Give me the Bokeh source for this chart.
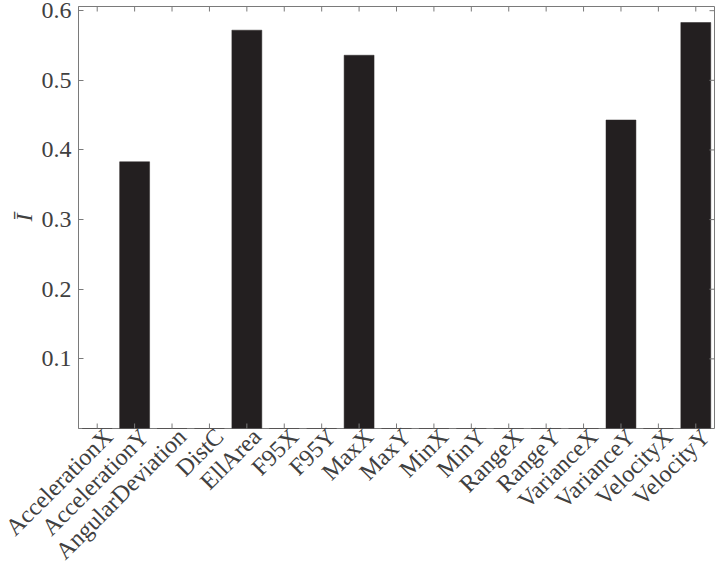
from math import pi
from bokeh.plotting import figure
from bokeh.models import Range1d, FixedTicker, ColumnDataSource, LinearAxis
from bokeh.embed import file_html
from bokeh.resources import INLINE

categories = ["AccelerationX", "AccelerationY", "AngularDeviation", "DistC", "EllArea",
              "F95X", "F95Y", "MaxX", "MaxY", "MinX", "MinY", "RangeX", "RangeY",
              "VarianceX", "VarianceY", "VelocityX", "VelocityY"]
values = [0.0, 0.383, 0.0, 0.0, 0.572, 0.0, 0.0, 0.536, 0.0, 0.0, 0.0, 0.0, 0.0,
          0.0, 0.443, 0.0, 0.583]
y_ticks = [0.1, 0.2, 0.3, 0.4, 0.5, 0.6]
y_min = 0.0
y_max = 0.606

FONT = "Liberation Serif"
AX = "#7a7a7a"
TXT = "#404040"
LABEL_SHIFT = 0.27  # category units: rotated labels sit a little right of their tick

n = len(categories)
idx = list(range(n))
x_lo, x_hi = -0.5, n - 0.5
src = ColumnDataSource(dict(x=idx, cat=categories, val=values,
                            base=[y_min] * n, top=[y_max] * n))

p = figure(width=716, height=576, x_range=Range1d(x_lo, x_hi), y_range=Range1d(y_min, y_max),
           output_backend="svg", toolbar_location=None,
           min_border_left=78, min_border_right=2, min_border_top=6, min_border_bottom=0)
p.vbar(x="x", top="val", width=0.8, source=src, fill_color="#231f20",
       line_color="#2a2627", line_width=0.5)

p.xgrid.visible = False
p.ygrid.visible = False
p.xaxis.visible = False
p.outline_line_color = AX
p.outline_line_width = 1
p.background_fill_color = "white"
p.border_fill_color = "white"

ya = p.yaxis[0]
ya.axis_line_color = AX
ya.major_tick_line_color = AX
ya.minor_tick_line_color = None
ya.major_tick_in = 5
ya.major_tick_out = 0
ya.major_label_text_font = FONT
ya.major_label_text_font_size = "24px"
ya.major_label_text_color = TXT
ya.ticker = FixedTicker(ticks=y_ticks)
ya.major_label_standoff = 7
ya.axis_label = "\u012a"
ya.axis_label_text_font = FONT
ya.axis_label_text_font_style = "italic"
ya.axis_label_text_font_size = "24px"
ya.axis_label_text_color = TXT
ya.axis_label_standoff = 2

# category label axis (rotated names), on an index range shifted slightly
p.extra_x_ranges = {"lab": Range1d(x_lo - LABEL_SHIFT, x_hi - LABEL_SHIFT)}
la = LinearAxis(x_range_name="lab", ticker=FixedTicker(ticks=idx),
                major_label_overrides={i: c for i, c in zip(idx, categories)})
la.major_label_orientation = pi / 4
la.major_label_standoff = 4
la.major_label_text_font = FONT
la.major_label_text_font_size = "24px"
la.major_label_text_color = TXT
la.axis_line_color = None
la.major_tick_line_color = None
la.minor_tick_line_color = None
la.major_tick_in = 0
la.major_tick_out = 0
p.add_layout(la, "below")

# inward ticks on bottom, top and right edges (dashes centred on the clipped frame edge)
p.scatter(x="x", y="base", source=src, marker="dash", angle=pi / 2, size=10,
          line_color=AX, line_width=1)
p.scatter(x="x", y="top", source=src, marker="dash", angle=pi / 2, size=10,
          line_color=AX, line_width=1)
right_src = ColumnDataSource(dict(x=[x_hi] * len(y_ticks), y=y_ticks))
p.scatter(x="x", y="y", source=right_src, marker="dash",
          size=10, line_color=AX, line_width=1)

open("out.html", "w").write(file_html(p, INLINE))
